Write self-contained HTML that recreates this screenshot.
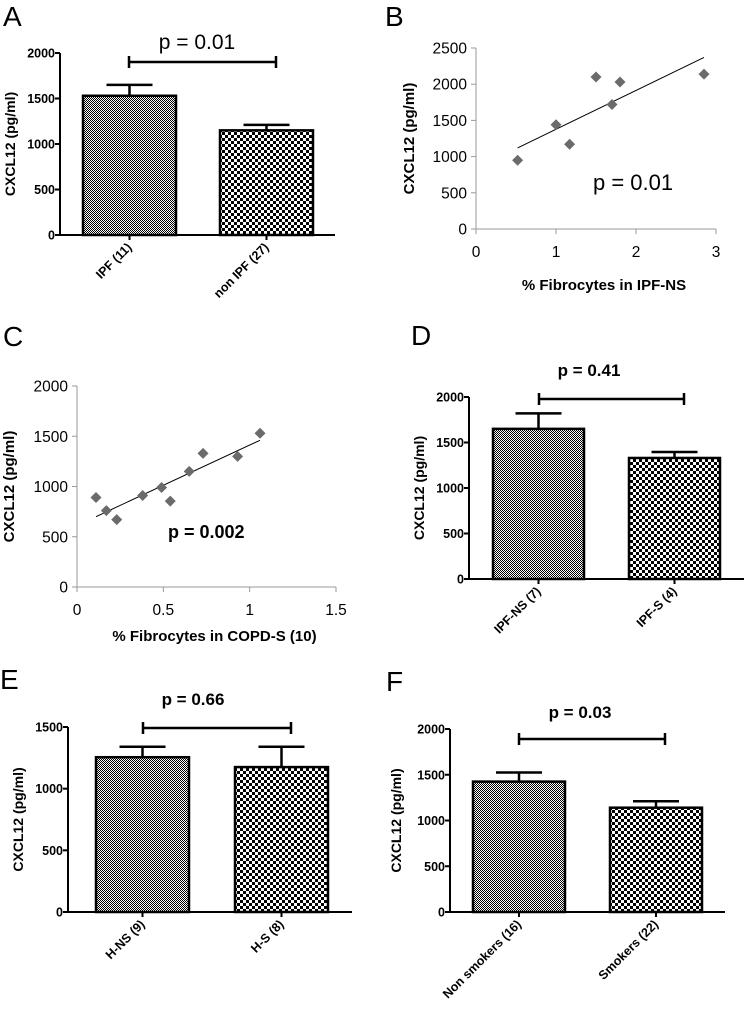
<!DOCTYPE html>
<html><head><meta charset="utf-8"><style>
body{margin:0;background:#fff}
svg{display:block}
.gp{font-family:"Liberation Sans",Arial,sans-serif;font-weight:bold}
.xl{font-family:"Liberation Sans",sans-serif}
</style></head><body>
<svg id="fig" width="745" height="1013" viewBox="0 0 745 1013" xmlns="http://www.w3.org/2000/svg">
<defs>
<pattern id="fine" width="2" height="2" patternUnits="userSpaceOnUse"><rect width="2" height="2" fill="#fff"/><rect width="1" height="1" fill="#000"/><rect x="1" y="1" width="1" height="1" fill="#000"/></pattern>
<pattern id="coarse" width="6" height="6" patternUnits="userSpaceOnUse"><rect width="6" height="6" fill="#fff"/><rect width="3" height="3" fill="#000"/><rect x="3" y="3" width="3" height="3" fill="#000"/></pattern>
</defs>
<g id="root"></g>
</svg>
<script>
// Panel A
const catsA = ["IPF (11)", "non IPF (27)"];
const valsA = [1530, 1150];
const errA = [1650, 1210];
const ticksA = [0, 500, 1000, 1500, 2000];
// Panel D
const catsD = ["IPF-NS (7)", "IPF-S (4)"];
const valsD = [1650, 1330];
const errD = [1820, 1395];
const ticksD = [0, 500, 1000, 1500, 2000];
// Panel E
const catsE = ["H-NS (9)", "H-S (8)"];
const valsE = [1255, 1175];
const errE = [1340, 1340];
const ticksE = [0, 500, 1000, 1500];
// Panel F
const catsF = ["Non smokers (16)", "Smokers (22)"];
const valsF = [1425, 1140];
const errF = [1525, 1210];
const ticksF = [0, 500, 1000, 1500, 2000];
// Panel B
const xB = [0.52, 1.0, 1.17, 1.5, 1.7, 1.8, 2.85];
const yB = [950, 1440, 1170, 2100, 1720, 2030, 2140];
const fitB = [[0.52, 1120], [2.85, 2370]];
const xTicksB = [0, 1, 2, 3];
const yTicksB = [0, 500, 1000, 1500, 2000, 2500];
// Panel C
const xC = [0.11, 0.17, 0.23, 0.38, 0.49, 0.54, 0.65, 0.73, 0.93, 1.06];
const yC = [890, 760, 670, 910, 990, 855, 1150, 1330, 1300, 1530];
const fitC = [[0.11, 700], [1.06, 1460]];
const xTicksC = [0, 0.5, 1, 1.5];
const yTicksC = [0, 500, 1000, 1500, 2000];

const NS = "http://www.w3.org/2000/svg";
const root = document.getElementById('root');
function mk(tag, attrs, parent, txt) {
  const e = document.createElementNS(NS, tag);
  for (const k in attrs) e.setAttribute(k, attrs[k]);
  if (txt !== undefined) e.textContent = txt;
  (parent || root).appendChild(e);
  return e;
}

function barPanel(o) {
  const g = mk('g', {});
  
  
  const ys = v => o.y0 - (v / o.ymax) * (o.y0 - o.y1);
  const L = mk('text', {x: o.lx, y: o.ly, 'font-size': 28, 'font-family': 'Liberation Sans,sans-serif'}, g, o.letter);
  
  
  o.vals.forEach((v, i) => {
    const b = mk('rect', {x: o.bx[i], y: ys(v), width: o.bw, height: o.y0 - ys(v), fill: i === 0 ? 'url(#fine)' : 'url(#coarse)', stroke: '#000', 'stroke-width': 2.5}, g);
    
    
    const cx = o.bx[i] + o.bw / 2;
    const e1 = mk('line', {x1: cx, x2: cx, y1: ys(v), y2: ys(o.err[i]), stroke: '#000', 'stroke-width': 2.5}, g);
    
    
    mk('line', {x1: cx - 23, x2: cx + 23, y1: ys(o.err[i]), y2: ys(o.err[i]), stroke: '#000', 'stroke-width': 2.5}, g);
    mk('line', {x1: cx, x2: cx, y1: o.y0, y2: o.y0 + 5, stroke: '#000', 'stroke-width': 2}, g);
    const t = mk('text', {x: cx + 3, y: o.y0 + 13, 'text-anchor': 'end', 'font-size': 12.5, class: 'gp', transform: `rotate(-45 ${cx + 3} ${o.y0 + 13})`}, g, o.cats[i]);
    
    
  });
  const ax = mk('path', {d: `M${o.ax} ${o.y1}V${o.y0}H${o.axEnd}`, fill: 'none', stroke: '#000', 'stroke-width': 2}, g);
  
  
  o.ticks.forEach(t => {
    mk('line', {x1: o.ax - 5, x2: o.ax, y1: ys(t), y2: ys(t), stroke: '#000', 'stroke-width': 2}, g);
    const tl = mk('text', {x: o.ax - 5, y: ys(t) + 4.5, 'text-anchor': 'end', 'font-size': 12.5, class: 'gp'}, g, t);
    
    
  });
  const ty = (o.y0 + o.y1) / 2;
  const yt = mk('text', {x: o.tx, y: ty, 'text-anchor': 'middle', 'font-size': 14, class: 'gp', transform: `rotate(-90 ${o.tx} ${ty})`}, g, 'CXCL12 (pg/ml)');
  
  
  const br = mk('path', {d: `M${o.brx[0]} ${o.bry - 6}V${o.bry + 6}M${o.brx[0]} ${o.bry}H${o.brx[1]}M${o.brx[1]} ${o.bry - 6}V${o.bry + 6}`, stroke: '#000', 'stroke-width': 2.5, fill: 'none'}, g);
  
  
  const p = mk('text', {x: o.px, y: o.py, 'text-anchor': 'middle', 'font-size': o.pBold ? 17 : 21, 'font-family': 'Liberation Sans,sans-serif', 'font-weight': o.pBold ? 'bold' : 'normal'}, g, o.p);
  
  
}

function scatterPanel(o) {
  const g = mk('g', {});
  
  
  const xs = v => o.x0 + (v / o.xmax) * (o.x1 - o.x0);
  const ys = v => o.y0 - (v / o.ymax) * (o.y0 - o.y1);
  const L = mk('text', {x: o.lx, y: o.ly, 'font-size': 28, 'font-family': 'Liberation Sans,sans-serif'}, g, o.letter);
  
  
  const ax = mk('path', {d: `M${o.x0} ${o.y1}V${o.y0}H${o.x1}`, fill: 'none', stroke: '#999', 'stroke-width': 1}, g);
  
  
  o.yt.forEach(t => {
    mk('line', {x1: o.x0 - 5, x2: o.x0, y1: ys(t), y2: ys(t), stroke: '#999'}, g);
    const tl = mk('text', {x: o.x0 - 9, y: ys(t) + 5.5, 'text-anchor': 'end', 'font-size': 15.5, class: 'xl'}, g, t);
    
    
  });
  o.xt.forEach(t => {
    mk('line', {x1: xs(t), x2: xs(t), y1: o.y0, y2: o.y0 + 5, stroke: '#999'}, g);
    const tl = mk('text', {x: xs(t), y: o.y0 + 28, 'text-anchor': 'middle', 'font-size': 15.5, class: 'xl'}, g, t);
    
    
  });
  const fl = mk('line', {x1: xs(o.fit[0][0]), y1: ys(o.fit[0][1]), x2: xs(o.fit[1][0]), y2: ys(o.fit[1][1]), stroke: '#000', 'stroke-width': 1}, g);
  
  
  o.xs.forEach((x, i) => {
    const cx = xs(x), cy = ys(o.ys[i]);
    const pt = mk('path', {d: `M${cx} ${cy - 5.5}L${cx + 5.5} ${cy}L${cx} ${cy + 5.5}L${cx - 5.5} ${cy}Z`, fill: '#6b6b6b'}, g);
    
    
  });
  const ty = (o.y0 + o.y1) / 2;
  const yt = mk('text', {x: o.tx, y: ty, 'text-anchor': 'middle', 'font-size': 15, class: 'gp', transform: `rotate(-90 ${o.tx} ${ty})`}, g, 'CXCL12 (pg/ml)');
  
  
  const xt = mk('text', {x: (o.x0 + o.x1) / 2 + 8, y: o.xty, 'text-anchor': 'middle', 'font-size': 15, class: 'gp'}, g, o.xtitle);
  
  
  const p = mk('text', {x: o.px, y: o.py, 'font-size': o.pBold ? 18 : 22, 'font-family': 'Liberation Sans,sans-serif', 'font-weight': o.pBold ? 'bold' : 'normal'}, g, o.p);
  
  
}

barPanel({name: 'panel-a', letter: 'A', lx: 3, ly: 26, cats: catsA, vals: valsA, err: errA, ticks: ticksA, ymax: 2000,
  y0: 235, y1: 53, ax: 60, axEnd: 335, bx: [83, 220], bw: 93, tx: 15, brx: [129, 276], bry: 62, px: 197, py: 49, p: 'p = 0.01', pBold: false});
barPanel({name: 'panel-d', letter: 'D', lx: 411, ly: 345, cats: catsD, vals: valsD, err: errD, ticks: ticksD, ymax: 2000,
  y0: 579, y1: 397, ax: 469, axEnd: 744, bx: [493, 629], bw: 91, tx: 424, brx: [539, 684], bry: 399, px: 589, py: 376, p: 'p = 0.41', pBold: true});
barPanel({name: 'panel-e', letter: 'E', lx: 0, ly: 689, cats: catsE, vals: valsE, err: errE, ticks: ticksE, ymax: 1500,
  y0: 912, y1: 727, ax: 68, axEnd: 352, bx: [96, 235], bw: 93, tx: 23, brx: [143, 291], bry: 728, px: 193, py: 705, p: 'p = 0.66', pBold: true});
barPanel({name: 'panel-f', letter: 'F', lx: 386, ly: 691, cats: catsF, vals: valsF, err: errF, ticks: ticksF, ymax: 2000,
  y0: 912, y1: 729, ax: 450, axEnd: 725, bx: [473, 610], bw: 92, tx: 401, brx: [519, 665], bry: 739, px: 580, py: 718, p: 'p = 0.03', pBold: true});

scatterPanel({name: 'panel-b', letter: 'B', lx: 385, ly: 26, xs: xB, ys: yB, fit: fitB, xt: xTicksB, yt: yTicksB,
  x0: 476, x1: 716, xmax: 3, y0: 229, y1: 48, ymax: 2500, tx: 414, xty: 290, xtitle: '% Fibrocytes in IPF-NS', px: 593, py: 190, p: 'p = 0.01', pBold: false});
scatterPanel({name: 'panel-c', letter: 'C', lx: 3, ly: 346, xs: xC, ys: yC, fit: fitC, xt: xTicksC, yt: yTicksC,
  x0: 77, x1: 336, xmax: 1.5, y0: 587, y1: 386, ymax: 2000, tx: 14, xty: 641, xtitle: '% Fibrocytes in COPD-S (10)', px: 168, py: 538, p: 'p = 0.002', pBold: true});
</script>
</body></html>
